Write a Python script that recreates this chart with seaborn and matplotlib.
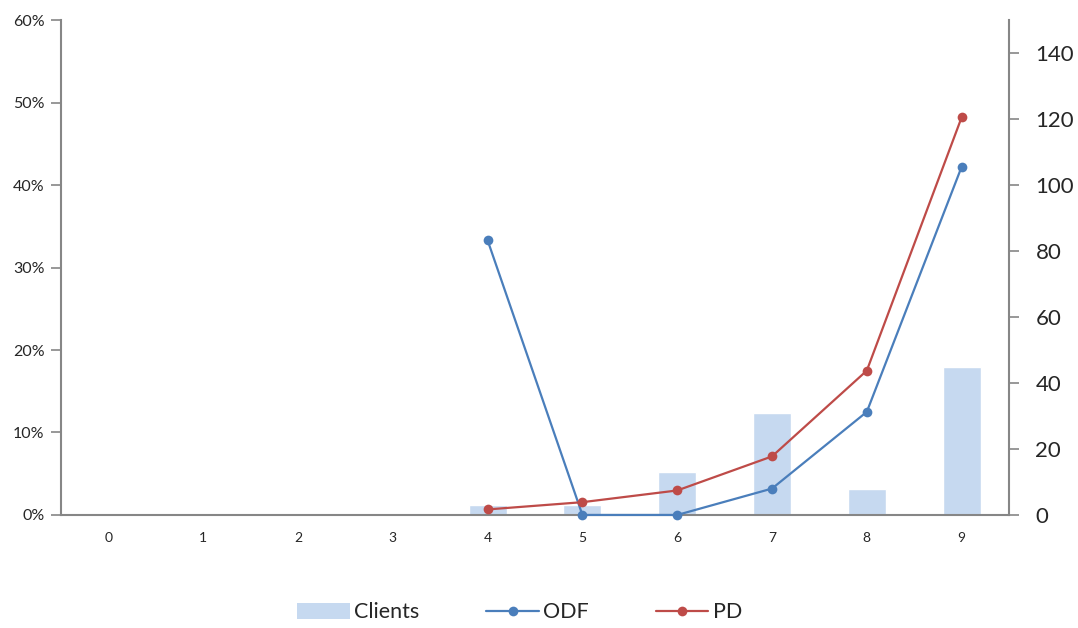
import numpy as np
import pandas as pd
import matplotlib
matplotlib.use("Agg")
import matplotlib.pyplot as plt
import seaborn as sns
from matplotlib.ticker import FuncFormatter, MultipleLocator
from matplotlib.lines import Line2D
from matplotlib.patches import Patch

# Rating grades and portfolio figures
grades = [0, 1, 2, 3, 4, 5, 6, 7, 8, 9]
clients = [0, 0, 0, 0, 3, 3, 13, 31, 8, 45]
odf = [None, None, None, None, 0.333, 0.0, 0.0, 0.032, 0.125, 0.422]
pd_values = [None, None, None, None, 0.0067, 0.0155, 0.0297, 0.071, 0.175, 0.482]

bar_color = "#c6d9f0"
odf_color = "#4a7ebb"
pd_color = "#be4b48"
spine_color = "#868686"

sns.set_theme(style="white")
plt.rcParams["font.family"] = ["Lato", "DejaVu Sans"]

df = pd.DataFrame({"grade": grades, "clients": clients, "ODF": odf, "PD": pd_values})

fig = plt.figure(figsize=(10.78, 6.28), dpi=100)
ax = fig.add_axes([0.0566, 0.18, 0.8794, 0.788])
ax2 = ax.twinx()

# Client counts as bars on the right axis
sns.barplot(data=df, x="grade", y="clients", color=bar_color, width=0.4,
            saturation=1, ax=ax2, zorder=1)
ax2.set_ylim(0, 150)
ax2.yaxis.set_major_locator(MultipleLocator(20))
ax2.set_ylabel("")

# Default rates as lines on the left axis, drawn above the bars
ax.set_zorder(ax2.get_zorder() + 1)
ax.patch.set_visible(False)
for col, color in [("ODF", odf_color), ("PD", pd_color)]:
    sub = df.dropna(subset=[col])
    sns.lineplot(x=sub["grade"].astype(float), y=sub[col].astype(float), ax=ax,
                 color=color, linewidth=1.6, marker="o", markersize=7,
                 markeredgewidth=0, clip_on=False, zorder=3)
ax.set_ylim(0, 0.6)
ax.set_xlim(-0.5, 9.5)
ax.yaxis.set_major_locator(MultipleLocator(0.1))
ax.yaxis.set_major_formatter(FuncFormatter(lambda v, _: f"{v:.0%}"))
ax.set_xlabel("")
ax.set_ylabel("")
ax2.set_xlim(-0.5, 9.5)

# Category labels centred, tick marks between categories
ax.set_xticks(grades)
ax.set_xticklabels([str(g) for g in grades], fontsize=10)
ax.set_xticks(np.arange(-0.5, 10, 1), minor=True)
ax.tick_params(axis="x", which="major", length=0, pad=12)
ax.tick_params(axis="x", which="minor", length=7, width=1.2, color=spine_color,
               direction="out")
ax.tick_params(axis="y", which="major", length=7, width=1.2, color=spine_color,
               direction="out", labelsize=11.5, pad=5)
ax2.tick_params(axis="y", which="major", length=7, width=1.2, color=spine_color,
                direction="out", labelsize=16, pad=12)
ax2.tick_params(axis="x", length=0, labelbottom=False)

for a in (ax, ax2):
    a.spines["top"].set_visible(False)
    for side in ("left", "right", "bottom"):
        a.spines[side].set_color(spine_color)
        a.spines[side].set_linewidth(1.5)
ax.spines["right"].set_visible(False)
ax2.spines["left"].set_visible(False)
ax2.spines["bottom"].set_visible(False)

handles = [
    Patch(facecolor=bar_color, edgecolor="none"),
    Line2D([], [], color=odf_color, linewidth=1.6, marker="o", markersize=7,
           markeredgewidth=0),
    Line2D([], [], color=pd_color, linewidth=1.6, marker="o", markersize=7,
           markeredgewidth=0),
]
fig.legend(handles, ["Clients", "ODF", "PD"], loc="lower center",
           bbox_to_anchor=(0.482, -0.022), ncol=3, frameon=False, fontsize=15.5,
           handlelength=2.45, handleheight=0.75, columnspacing=3.1, handletextpad=0.2)

fig.savefig("out.png", dpi=100)
